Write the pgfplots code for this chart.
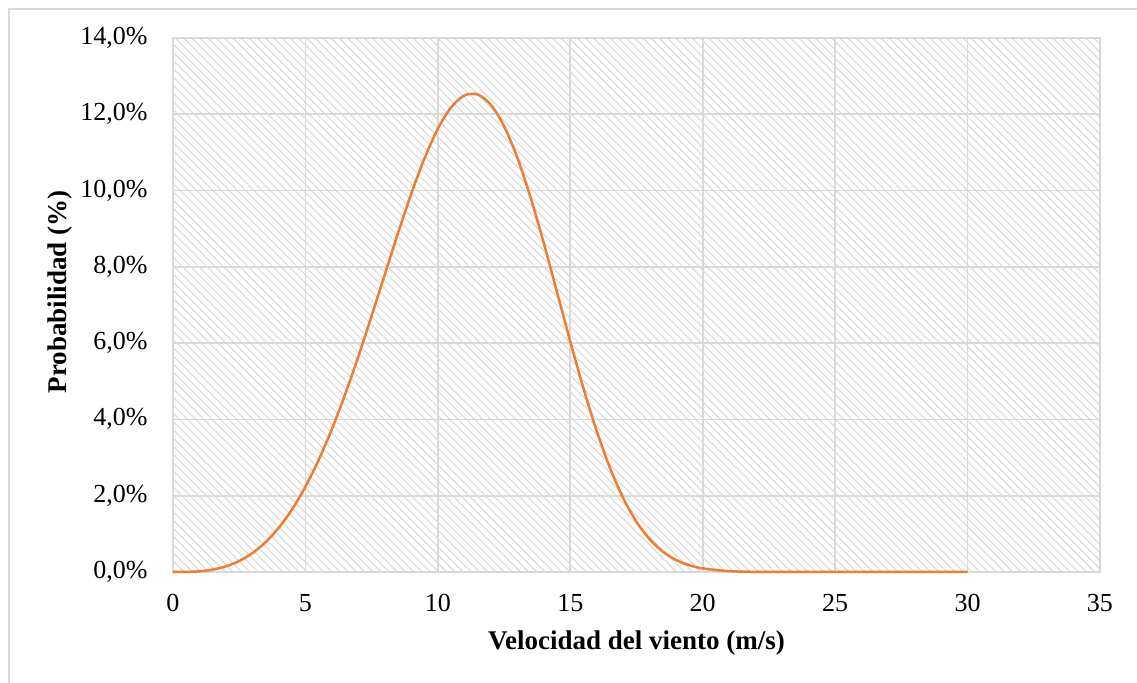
\documentclass[border=0pt]{standalone}
\usepackage{pgfplots}
\pgfplotsset{compat=1.18}
\usepackage{fontspec}
\setmainfont{Liberation Serif}
\usetikzlibrary{patterns.meta}
\definecolor{curve}{HTML}{ED7D31}
\definecolor{gridc}{HTML}{D9D9D9}
\definecolor{hatchc}{HTML}{DCDCDC}
\begin{document}
\begin{tikzpicture}
\useasboundingbox (0,0) rectangle (568.5pt,341.5pt);
\draw[gridc, line width=1pt] (4.5pt,0pt) -- (4.5pt,337pt) -- (568.5pt,337pt);
\begin{axis}[
  at={(86.5pt,55.5pt)}, anchor=south west,
  scale only axis, width=463.5pt, height=267pt,
  xmin=0, xmax=35, ymin=0, ymax=0.14,
  xtick={0,5,...,35},
  ytick={0,0.02,0.04,0.06,0.08,0.10,0.12,0.14},
  yticklabels={{0,0\%},{2,0\%},{4,0\%},{6,0\%},{8,0\%},{10,0\%},{12,0\%},{14,0\%}},
  /pgf/number format/assume math mode=true,
  major tick length=0pt,
  grid=major,
  grid style={gridc, line width=0.9pt},
  axis line style={gridc, line width=0.9pt},
  axis background/.style={pattern={Lines[angle=-45,distance=2.9pt,line width=0.6pt]}, pattern color=hatchc},
  tick label style={font=\fontsize{13pt}{15pt}\selectfont, inner sep=0pt},
  xticklabel style={anchor=base, yshift=-20pt},
  yticklabel style={anchor=base east, xshift=-12.5pt, yshift=-3.25pt},
  label style={font=\fontsize{13.5pt}{16pt}\selectfont\bfseries, inner sep=0pt},
  xlabel={Velocidad del viento (m/s)},
  ylabel={Probabilidad (\%)},
  xlabel style={at={(axis description cs:0.5,-0.146)}, anchor=base},
  ylabel style={at={(axis description cs:-0.1219,0.5243)}, anchor=center},
  clip=false,
]
\addplot[curve, line width=1.25pt, smooth] coordinates {
(0,0) (0.5,0.000023) (1,0.000184) (1.5,0.000622) (2,0.001472) (2.5,0.002872)
(3,0.004954) (3.5,0.007841) (4,0.011648) (4.5,0.016468) (5,0.02237)
(5.5,0.029376) (6,0.037474) (6.5,0.046584) (7,0.056557) (7.5,0.06716)
(8,0.078085) (8.5,0.088935) (9,0.099256) (9.5,0.108524) (10,0.116213)
(10.5,0.121823) (11,0.12492) (11.5,0.12519) (12,0.1225) (12.5,0.116897)
(13,0.108629) (13.5,0.098199) (14,0.086201) (14.5,0.073359) (15,0.060438)
(15.5,0.048101) (16,0.036916) (16.5,0.027267) (17,0.019353) (17.5,0.013162)
(18,0.008557) (18.5,0.005303) (19,0.003133) (19.5,0.001755) (20,0.000931)
(21,0.00022) (22,0.00004) (23,0.000005) (24,0) (25,0) (26,0) (27,0) (28,0) (29,0) (30,0)
};
\end{axis}
\end{tikzpicture}
\end{document}
